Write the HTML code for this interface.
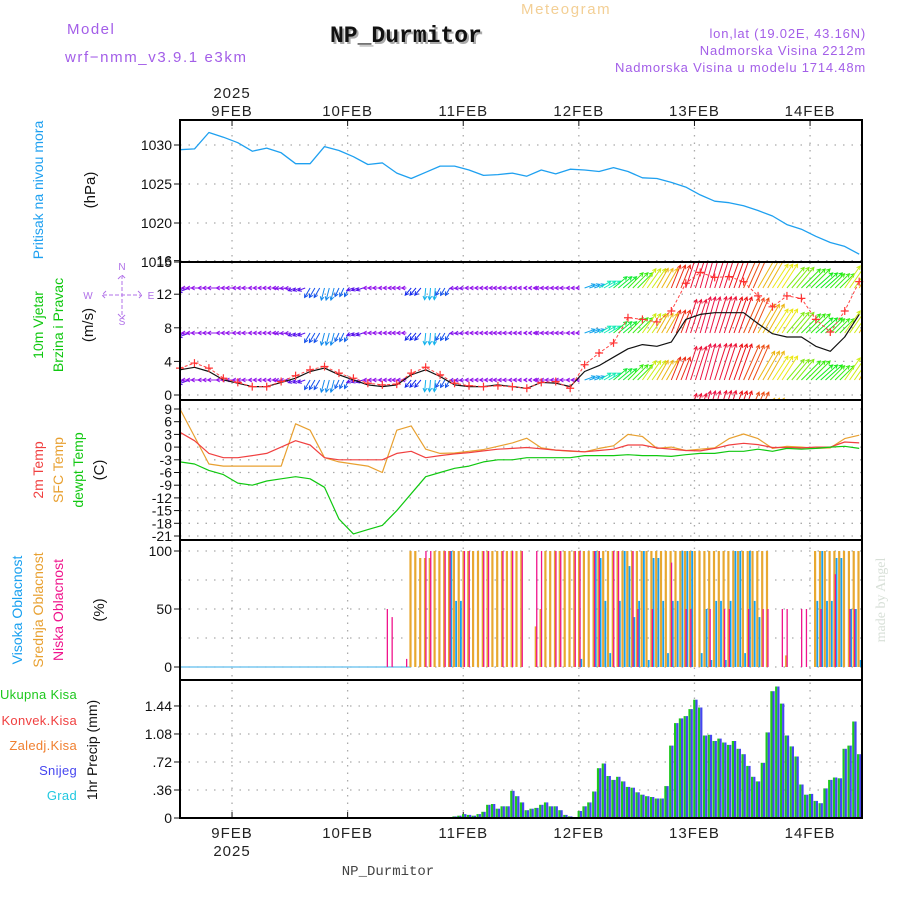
<!DOCTYPE html>
<html><head><meta charset="utf-8"><style>
body{margin:0;background:#fff;}
svg{display:block;font-family:"Liberation Sans",sans-serif;}
</style></head><body>
<svg id="c" width="900" height="900" viewBox="0 0 900 900" xmlns="http://www.w3.org/2000/svg">
<defs>
<clipPath id="clipW"><rect x="180" y="262" width="682" height="138"/></clipPath>
</defs>
<text x="67" y="34" font-size="15" fill="#a35ee8" letter-spacing="1.5">Model</text>
<text x="65" y="62" font-size="15" fill="#a35ee8" letter-spacing="1.6">wrf−nmm_v3.9.1 e3km</text>
<text x="521" y="14" font-size="15" fill="#f3cf95" letter-spacing="1.6">Meteogram</text>
<text x="332" y="44" font-size="23" font-weight="bold" fill="#aaa" font-family="Liberation Mono,monospace">NP_Durmitor</text>
<text x="330" y="42" font-size="23" font-weight="bold" fill="#111" font-family="Liberation Mono,monospace">NP_Durmitor</text>
<text x="866" y="38" font-size="13" fill="#a35ee8" text-anchor="end" letter-spacing="0.8">lon,lat (19.02E, 43.16N)</text>
<text x="866" y="55" font-size="13" fill="#a35ee8" text-anchor="end" letter-spacing="0.8">Nadmorska Visina 2212m</text>
<text x="866" y="72" font-size="13" fill="#a35ee8" text-anchor="end" letter-spacing="0.8">Nadmorska Visina u modelu 1714.48m</text>
<text x="232" y="98" font-size="15" fill="#222" text-anchor="middle" letter-spacing="1">2025</text>
<g id="g"></g>
<text x="388" y="875" font-size="14" fill="#444" text-anchor="middle" font-family="Liberation Mono,monospace">NP_Durmitor</text>
<text transform="translate(885,600) rotate(-90)" font-size="14" fill="#d8e0d8" text-anchor="middle" font-family="Liberation Serif,serif">made by Angel</text>
</svg>
<script>
// ---- data (3-hourly samples, hour = index*3) ----
const pressure = [1029.4,1029.5,1031.6,1031.0,1030.3,1029.2,1029.6,1029.0,1027.6,1027.6,1029.8,1029.3,1028.5,1027.5,1027.7,1026.4,1025.7,1026.5,1027.3,1027.3,1026.8,1026.1,1026.2,1026.4,1026.0,1026.8,1026.3,1026.9,1026.8,1026.6,1027.1,1026.6,1025.8,1025.7,1025.2,1024.6,1023.6,1022.8,1022.6,1022.2,1021.6,1020.9,1019.8,1019.2,1018.3,1017.5,1017.0,1016.0];
const windSpeed = [3.0,3.3,2.8,1.8,1.4,1.0,1.0,1.5,2.0,2.8,3.2,2.4,1.8,1.2,1.0,1.2,2.4,3.0,2.2,1.2,1.0,1.0,1.2,1.0,0.8,1.5,1.4,1.0,2.8,3.5,4.5,5.5,6.0,5.8,6.3,9.0,9.6,9.8,9.8,9.8,8.5,7.3,6.9,6.9,5.8,5.2,6.9,9.6];
const windGust = [3.2,3.8,3.2,2.0,1.5,1.0,1.0,1.6,2.3,3.0,3.4,2.6,2.0,1.4,1.2,1.3,2.6,3.3,2.4,1.4,1.1,1.0,1.1,1.0,0.8,1.5,1.6,0.8,3.6,5.0,6.2,9.2,9.0,8.7,10.0,13.3,14.6,14.0,14.1,13.5,11.8,10.5,11.8,11.5,9.0,7.5,10.0,13.5];
const windDir = [200,180,180,180,180,180,180,185,200,240,255,245,200,180,180,180,230,265,240,185,180,180,180,180,180,180,180,180,20,30,40,45,55,60,68,72,74,72,70,66,60,57,50,45,42,45,55,60];
const temp2m = [3.5,1.5,-1.5,-2.5,-2.5,-2.0,-1.5,0.0,1.5,0.5,-2.5,-3.0,-3.0,-3.0,-3.0,-1.5,-1.0,-2.5,-2.0,-1.6,-1.3,-0.9,-0.5,-0.3,-0.1,-0.4,-0.7,-0.9,-1.1,-0.8,-0.5,0.5,0.5,-0.2,-0.5,-0.8,-0.9,-0.3,0.5,0.9,0.6,-0.1,-0.1,-0.2,0.0,0.0,1.2,1.0];
const tempSfc = [9.0,2.5,-4.0,-4.5,-4.5,-4.5,-4.5,-4.5,5.5,4.0,-2.5,-3.5,-4.0,-4.5,-6.0,4.0,5.0,-0.5,-1.5,-1.4,-1.0,-0.6,0.2,1.0,2.1,-0.2,-0.7,-1.0,-1.1,-0.3,0.3,3.0,2.5,-0.3,0.0,-0.8,-0.5,-0.2,2.0,3.1,2.0,-0.3,0.2,0.0,-0.3,-0.2,2.0,2.8];
const dewpt = [-3.5,-4.0,-5.5,-6.5,-8.5,-9.0,-8.0,-7.5,-7.0,-7.5,-9.5,-17.0,-20.5,-19.5,-18.5,-15.0,-11.0,-7.0,-6.0,-5.0,-4.5,-3.5,-3.0,-3.0,-2.5,-2.5,-2.5,-2.5,-2.0,-2.0,-2.0,-1.8,-2.0,-2.0,-2.2,-1.8,-1.5,-1.5,-1.0,-1.0,-0.5,-1.0,-0.3,-0.5,-0.3,0.0,0.2,-0.3];
// ---- hourly data (hour = index) ----
const cloudMid = [0,0,0,0,0,0,0,0,0,0,0,0,0,0,0,0,0,0,0,0,0,0,0,0,0,0,0,0,0,0,0,0,0,0,0,0,0,0,0,0,0,0,0,0,0,0,0,0,100,100,94,94,94,100,100,100,100,100,100,100,100,100,100,100,100,100,100,100,100,100,100,100,0,0,35,50,100,100,100,100,100,100,100,100,100,100,100,100,100,100,100,100,100,100,100,100,100,100,100,100,100,100,100,100,100,100,100,100,100,100,100,100,100,100,100,100,100,100,100,100,100,100,100,0,0,0,10,0,0,0,0,0,100,100,100,100,100,100,100,100,100,100];
const cloudLow = [0,0,0,0,0,0,0,0,0,0,0,0,0,0,0,0,0,0,0,0,0,0,0,0,0,0,0,0,0,0,0,0,0,0,0,0,0,0,0,0,0,0,0,50,43,0,0,7,0,0,0,100,100,0,0,100,100,0,0,100,100,0,0,100,100,0,0,100,0,100,0,100,0,0,100,100,0,0,100,100,0,0,100,100,0,0,100,100,0,0,100,100,0,0,100,50,0,0,50,0,0,0,90,0,0,50,50,0,0,0,50,0,0,50,50,0,0,0,50,0,0,50,50,0,0,50,50,0,0,50,50,0,0,50,0,0,80,0,0,50,50,0];
const cloudHigh = [0,0,0,0,0,0,0,0,0,0,0,0,0,0,0,0,0,0,0,0,0,0,0,0,0,0,0,0,0,0,0,0,0,0,0,0,0,0,0,0,0,0,0,0,0,0,0,0,0,0,0,0,0,0,0,0,100,57,57,0,0,0,0,0,0,0,0,0,0,0,0,0,0,0,0,0,0,0,0,0,0,0,0,7,0,0,100,94,57,12,0,57,100,87,43,57,100,6,94,94,57,12,57,57,100,100,100,0,12,50,6,57,57,6,57,100,100,12,100,57,43,0,0,0,0,0,0,0,0,0,0,0,57,100,57,57,94,94,0,50,50,6];
const precip = [0,0,0,0,0,0,0,0,0,0,0,0,0,0,0,0,0,0,0,0,0,0,0,0,0,0,0,0,0,0,0,0,0,0,0,0,0,0,0,0,0,0,0,0,0,0,0,0,0,0,0,0,0,0,0,0,0,0.02,0.03,0.05,0.04,0.03,0.05,0.08,0.17,0.18,0.12,0.15,0.15,0.35,0.28,0.2,0.1,0.12,0.13,0.17,0.2,0.15,0.15,0.1,0.04,0.02,0.01,0.09,0.15,0.2,0.34,0.64,0.7,0.54,0.49,0.53,0.47,0.4,0.39,0.33,0.3,0.28,0.27,0.25,0.25,0.41,0.93,1.22,1.28,1.31,1.4,1.52,1.42,1.06,1.07,0.99,1.02,0.97,0.94,0.99,0.89,0.82,0.67,0.53,0.47,0.71,1.1,1.63,1.69,1.47,1.06,0.92,0.79,0.43,0.3,0.31,0.22,0.19,0.38,0.49,0.52,0.51,0.89,0.93,1.24,0.82];
const dayLabels = ["9FEB","10FEB","11FEB","12FEB","13FEB","14FEB"];
const pTicks = [1030,1025,1020];
const wTicks = [0,4,8,12,16];
const tTicks = [9,6,3,0,-3,-6,-9,-12,-15,-18,-21];
const cTicks = [0,50,100];
const rTicks = [0,0.36,0.72,1.08,1.44];

const NS="http://www.w3.org/2000/svg";
const G=document.getElementById('g');
function el(t,a,p){const e=document.createElementNS(NS,t);for(const k in a)e.setAttribute(k,a[k]);(p||G).appendChild(e);return e;}
const X0=180,X1=862,PH=4.817;
const xh=h=>X0+h*PH;
const yP=v=>145+(1030-v)*7.8;
const yW=v=>395-v*8.4;
const yT=v=>409+(9-v)*4.233;
const yC=v=>667-v*1.16;
const yR=v=>818-v*77.8;
const panels=[[120,262],[262,400],[400,540],[540,680],[680,818]];
const dayH=[10.8,34.8,58.8,82.8,106.8,130.8];

function hgrid(ys){ys.forEach(y=>{const l=el('line',{x1:X0,x2:X1,y1:y,y2:y,stroke:'#aaa','stroke-width':1.3,'stroke-dasharray':'1.5,7'});
});}
hgrid(pTicks.map(yP).concat([yP(1015)]));
hgrid(wTicks.map(yW));
hgrid(tTicks.map(yT));
hgrid([0,25,50,75,100].map(yC));
hgrid(rTicks.map(yR));
dayH.forEach(h=>{const l=el('line',{x1:xh(h),x2:xh(h),y1:120,y2:818,stroke:'#aaa','stroke-width':1.3,'stroke-dasharray':'1.5,6'});
});

function tickLabels(ticks,yf,name,fmt){ticks.forEach(v=>{
 const t=el('text',{x:172,y:yf(v)+5,'font-size':14,'text-anchor':'end',fill:'#111'});t.textContent=fmt?fmt(v):v;
 
 const k=el('line',{x1:X0,x2:X0-6,y1:yf(v),y2:yf(v),stroke:'#111'});});}
tickLabels([1030,1025,1020,1015],yP,'pressure-tick');
tickLabels(wTicks,yW,'wind-tick');
tickLabels(tTicks,yT,'temp-tick');
tickLabels(cTicks,yC,'cloud-tick');
tickLabels(rTicks,yR,'precip-tick',v=>v===0?'0':v.toFixed(2).replace(/^0/,''));

dayH.forEach((h,i)=>{
 const t=el('text',{x:xh(h),y:116,'font-size':15,'text-anchor':'middle',fill:'#222','letter-spacing':1});t.textContent=dayLabels[i];
 
 const b=el('text',{x:xh(h),y:838,'font-size':15,'text-anchor':'middle',fill:'#222','letter-spacing':1});b.textContent=dayLabels[i];
 
 [120,818].forEach(y=>{const k=el('line',{x1:xh(h),x2:xh(h),y1:y,y2:y+(y==120?6:-6),stroke:'#111'});});
});
{const t=el('text',{x:xh(10.8),y:856,'font-size':15,'text-anchor':'middle',fill:'#222','letter-spacing':1});t.textContent='2025';
}

function line(arr,xf,yf,color,name,w,dash){
 const d=arr.map((v,i)=>(i?'L':'M')+xf(i).toFixed(1)+','+yf(v).toFixed(1)).join('');
 const p=el('path',{d:d,fill:'none',stroke:color,'stroke-width':w||1.2,'stroke-linejoin':'round'});
 if(dash)p.setAttribute('stroke-dasharray',dash);
 return p;}
const x3=i=>xh(i*3);

line(pressure,x3,yP,'#1ea0f0','pressure-line',1.3);

const hueA=[[0,200],[20,200],[40,130],[50,90],[58,55],[65,20],[72,-10],[90,-50],[180,-85],[225,-120],[270,-170],[360,-160]];
function hueOf(th){th=((th%360)+360)%360;for(let i=1;i<hueA.length;i++){if(th<=hueA[i][0]){const a=hueA[i-1],b=hueA[i];const f=(th-a[0])/(b[0]-a[0]);return ((a[1]+f*(b[1]-a[1]))%360+360)%360;}}return 200;}
const wg=el('g',{'clip-path':'url(#clipW)'});

const rows=[288,333,380,427];
windSpeed.forEach((s,i)=>{
 const th=windDir[i]*Math.PI/180, L=s*3.9, col='hsl('+hueOf(windDir[i]).toFixed(0)+',85%,50%)';
 for(let k=0;k<3;k++){const h=i*3+k;if(h>141.5)continue;const x=xh(h);
  rows.forEach(y0=>{
   const x2=x+L*Math.cos(th),y2=y0-L*Math.sin(th);
   const a=el('path',{d:`M${x.toFixed(1)},${y0}L${x2.toFixed(1)},${y2.toFixed(1)}`+
     `M${(x2-4*Math.cos(th-0.5)).toFixed(1)},${(y2+4*Math.sin(th-0.5)).toFixed(1)}L${x2.toFixed(1)},${y2.toFixed(1)}L${(x2-4*Math.cos(th+0.5)).toFixed(1)},${(y2+4*Math.sin(th+0.5)).toFixed(1)}`,
     stroke:col,'stroke-width':1,fill:'none'},wg);
   
  });}
});
line(windSpeed,x3,yW,'#111','wind-speed-line',1.2);
line(windGust,x3,yW,'#f44','wind-gust-line',1,'3,2');
windGust.forEach((v,i)=>{const x=x3(i),y=yW(v);
 const m=el('path',{d:`M${x-4},${y}L${x+4},${y}M${x},${y-4}L${x},${y+4}`,stroke:'#f33','stroke-width':1.2});
 });

line(tempSfc,x3,yT,'#e8a030','sfc-temp-line',1.2);
line(temp2m,x3,yT,'#f04040','temp-2m-line',1.2);
line(dewpt,x3,yT,'#10c810','dewpt-line',1.2);

{const b=el('line',{x1:X0,x2:xh(48),y1:yC(0),y2:yC(0),stroke:'#7ac8f0','stroke-width':1.5});}
function cbars(arr,dx,w,color,name){arr.forEach((v,h)=>{if(v<=0)return;const x=xh(h)+dx;
 const r=el('rect',{x:x.toFixed(1),y:yC(v).toFixed(1),width:w,height:(yC(0)-yC(v)).toFixed(1),fill:color});
 });}
cbars(cloudMid,-1.8,2.2,'#e8a830','mid-cloud-bar');
cbars(cloudHigh,0.6,1.8,'#18a0f0','high-cloud-bar');
cbars(cloudLow,-0.4,1.3,'#f0148c','low-cloud-bar');

precip.forEach((v,h)=>{if(v<=0)return;const x=xh(h);
 const g=el('rect',{x:(x-2.2).toFixed(1),y:yR(v).toFixed(1),width:2.2,height:(818-yR(v)).toFixed(1),fill:'#1ec81e'});
 
 const b=el('rect',{x:x.toFixed(1),y:yR(v).toFixed(1),width:2.2,height:(818-yR(v)).toFixed(1),fill:'#4646f0'});
 });

panels.forEach(([a,b])=>{const r=el('rect',{x:X0,y:a,width:X1-X0,height:b-a,fill:'none',stroke:'#000','stroke-width':2});
 });

function vt(x,y,txt,col,name,fs){const t=el('text',{transform:`translate(${x},${y}) rotate(-90)`,'font-size':fs||14,'text-anchor':'middle',fill:col});t.textContent=txt;
 }
vt(43,190,'Pritisak na nivou mora','#1ea0f0','pressure-title');
vt(95,190,'(hPa)','#111','pressure-unit',15);
vt(43,325,'10m Vjetar','#10c810','wind-title-1');
vt(63,325,'Brzina i Pravac','#10c810','wind-title-2');
vt(93,325,'(m/s)','#111','wind-unit',15);
vt(43,470,'2m Temp','#f04040','temp-2m-title');
vt(63,470,'SFC Temp','#e8a030','sfc-temp-title');
vt(83,470,'dewpt Temp','#10c810','dewpt-title');
vt(104,470,'(C)','#111','temp-unit',15);
vt(22,610,'Visoka Oblacnost','#18a0f0','high-cloud-title');
vt(43,610,'Srednja Oblacnost','#e8a030','mid-cloud-title');
vt(63,610,'Niska Oblacnost','#f0148c','low-cloud-title');
vt(104,610,'(%)','#111','cloud-unit',15);
vt(97,750,'1hr Precip (mm)','#111','precip-title');
[['Ukupna Kisa','#1ec81e',699],['Konvek.Kisa','#f04040',725],['Zaledj.Kisa','#f08030',750],['Snijeg','#4646f0',775],['Grad','#20c8e0',800]].forEach(([t,c,y])=>{
 const e=el('text',{x:77,y:y,'font-size':13,'text-anchor':'end',fill:c,'letter-spacing':0.3});e.textContent=t;
 });
{const cg=el('g',{fill:'#b070e8','font-size':10,stroke:'none'});
 [['W',88,299],['E',151,299],['N',122,270],['S',122,325]].forEach(([t,x,y])=>{const e=el('text',{x:x,y:y,'text-anchor':'middle'},cg);e.textContent=t;});
 el('path',{d:'M103,295L142,295M122,275L122,318M106,291L102,295L106,299M138,291L142,295L138,299M118,279L122,275L126,279M118,314L122,318L126,314',stroke:'#b070e8','stroke-width':1,fill:'none','stroke-dasharray':'4,2'},cg);}
</script>
</body></html>
